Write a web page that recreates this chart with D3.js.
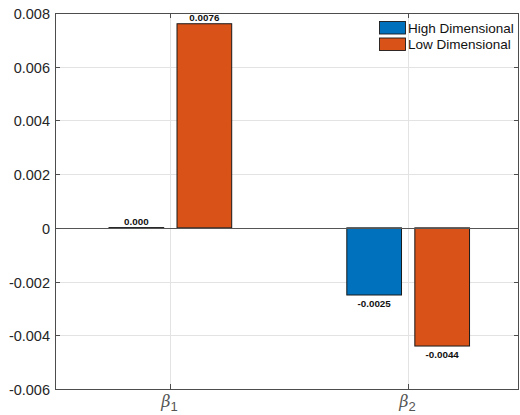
<!doctype html>
<html lang="en">
<head>
<meta charset="utf-8">
<title>Coefficient bias</title>
<script src="https://cdn.jsdelivr.net/npm/d3@7"></script>
<style>
  body { margin: 0; background: #fff; }
  svg text { font-family: "Liberation Sans", Arial, sans-serif; }
  .grid line { stroke: #e3e3e3; stroke-width: 1; }
  .tick-label { fill: #262626; font-size: 14.5px; }
  .val { font-size: 9.8px; font-weight: bold; fill: #111; }
</style>
</head>
<body>
<svg width="520" height="415"></svg>
<script>
// data
var categories = ["1", "2"];              // beta subscripts
var series = ["High Dimensional", "Low Dimensional"];
var highDim = [0.00001, -0.0025];
var lowDim = [0.0076, -0.0044];
var valueLabels = [["0.000", "-0.0025"], ["0.0076", "-0.0044"]];
var yTicks = [-0.006, -0.004, -0.002, 0, 0.002, 0.004, 0.006, 0.008];
var colors = ["#0072bd", "#d95319"];

var svg = d3.select("svg");
// plot box (window.top is reserved, hence the prefixed names)
var pLeft = 55, pRight = 519, pTop = 13, pBottom = 389;

var x = d3.scaleLinear().domain([0.515, 2.466]).range([pLeft, pRight]);
var y = d3.scaleLinear().domain([-0.006, 0.008]).range([pBottom, pTop]);

// grid
var grid = svg.append("g").attr("class", "grid");
grid.selectAll(".gy").data(yTicks).enter().append("line")
  .attr("x1", pLeft).attr("x2", pRight)
  .attr("y1", function(d) { return Math.round(y(d)) + 0.5; })
  .attr("y2", function(d) { return Math.round(y(d)) + 0.5; });
grid.selectAll(".gx").data(categories).enter().append("line")
  .attr("x1", function(d, i) { return Math.round(x(i + 1)) + 0.5; })
  .attr("x2", function(d, i) { return Math.round(x(i + 1)) + 0.5; })
  .attr("y1", pTop).attr("y2", pBottom);

// bars
var offset = 0.143, barW = 0.23;
var sets = [highDim, lowDim];
sets.forEach(function(vals, s) {
  var g = svg.append("g");
  g.selectAll("rect").data(vals).enter().append("rect")
    .attr("x", function(d, i) { return x(i + 1 + (s === 0 ? -offset : offset) - barW / 2); })
    .attr("width", x(barW) - x(0))
    .attr("y", function(d) { return y(Math.max(0, d)); })
    .attr("height", function(d) { return Math.abs(y(d) - y(0)); })
    .attr("fill", colors[s])
    .attr("stroke", "#1a1a1a")
    .attr("stroke-width", 1);
  g.selectAll("text").data(vals).enter().append("text")
    .attr("class", "val")
    .attr("text-anchor", "middle")
    .attr("x", function(d, i) { return x(i + 1 + (s === 0 ? -offset : offset)); })
    .attr("y", function(d) { return d >= 0 ? y(d) - 3 : y(d) + 11.5; })
    .text(function(d, i) { return valueLabels[s][i]; });
});

// zero baseline
svg.append("line")
  .attr("x1", pLeft).attr("x2", pRight)
  .attr("y1", Math.round(y(0)) + 0.5).attr("y2", Math.round(y(0)) + 0.5)
  .attr("stroke", "#555").attr("stroke-width", 1.2);

// box
var axisColor = "#4d4d4d";
svg.append("rect")
  .attr("x", pLeft + 0.5).attr("y", pTop + 0.5)
  .attr("width", pRight - pLeft - 1).attr("height", pBottom - pTop)
  .attr("fill", "none").attr("stroke", axisColor).attr("stroke-width", 1);

// y ticks
var yAxis = svg.append("g");
yTicks.forEach(function(t) {
  var yy = Math.round(y(t)) + 0.5;
  yAxis.append("line").attr("x1", pLeft).attr("x2", pLeft + 5)
    .attr("y1", yy).attr("y2", yy).attr("stroke", axisColor);
  yAxis.append("line").attr("x1", pRight - 5).attr("x2", pRight)
    .attr("y1", yy).attr("y2", yy).attr("stroke", axisColor);
  yAxis.append("text").attr("class", "tick-label")
    .attr("x", pLeft - 5).attr("y", yy + 5)
    .attr("text-anchor", "end")
    .text(t === 0 ? "0" : d3.format(".3f")(t).replace("−", "-"));
});

// x ticks
categories.forEach(function(c, i) {
  var xx = Math.round(x(i + 1)) + 0.5;
  svg.append("line").attr("x1", xx).attr("x2", xx)
    .attr("y1", pBottom - 5).attr("y2", pBottom).attr("stroke", axisColor);
  svg.append("line").attr("x1", xx).attr("x2", xx)
    .attr("y1", pTop).attr("y2", pTop + 5).attr("stroke", axisColor);
  var t = svg.append("text").attr("x", xx - 1).attr("y", 407)
    .attr("text-anchor", "middle").attr("fill", "#555")
    .style("font-family", "'DejaVu Serif', serif").style("font-size", "16px");
  t.append("tspan").attr("font-style", "italic").text("β");
  t.append("tspan").attr("dy", 4).style("font-size", "13px")
    .style("font-family", "'Liberation Sans', sans-serif").text(c);
});

// legend
var legend = svg.append("g");
series.forEach(function(name, i) {
  var ly = 21.5 + i * 16.5;
  legend.append("rect").attr("x", 379.5).attr("y", ly)
    .attr("width", 26).attr("height", 12.5)
    .attr("fill", colors[i]).attr("stroke", "#1a1a1a").attr("stroke-width", 0.9);
  legend.append("text").attr("x", 408).attr("y", ly + 11)
    .style("font-size", "13.5px").attr("fill", "#111").text(name);
});
</script>
</body>
</html>
